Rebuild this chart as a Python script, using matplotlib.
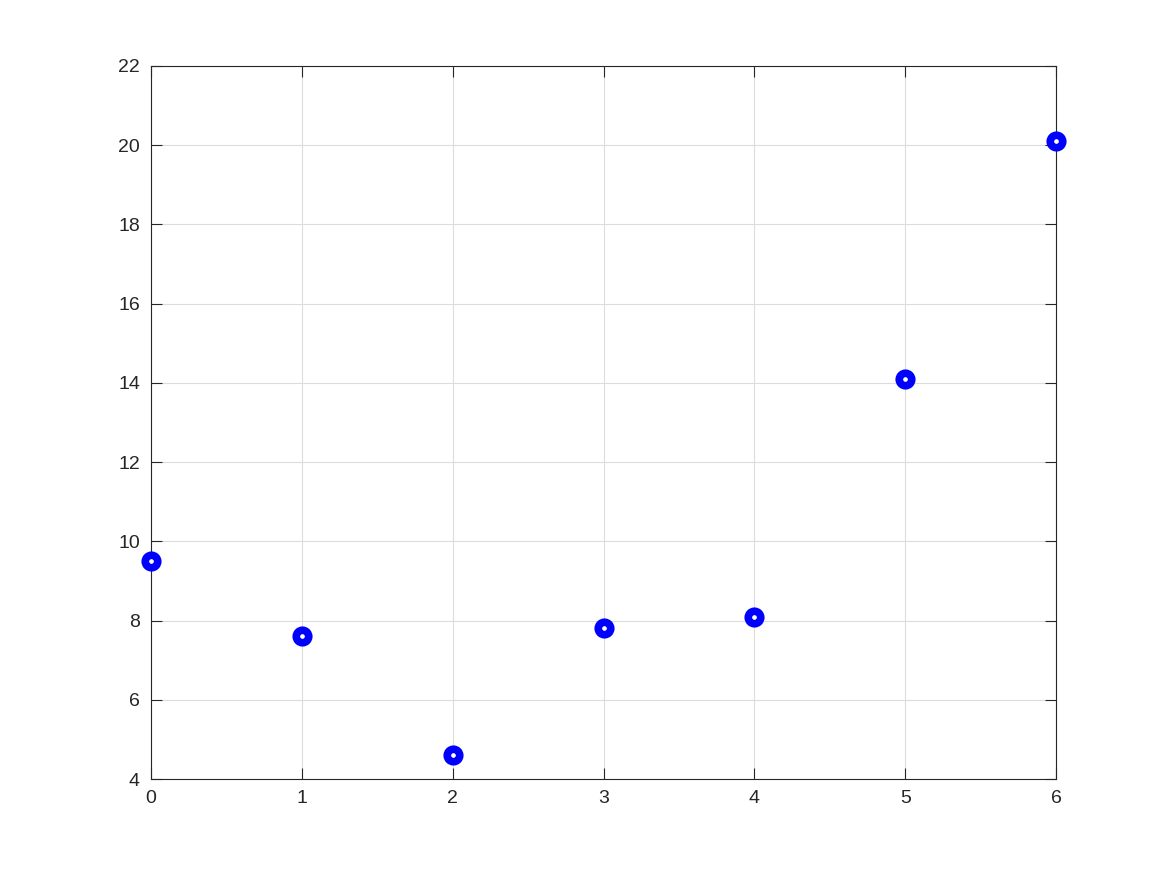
import numpy as np
import matplotlib
matplotlib.use('Agg')
import matplotlib.pyplot as plt

x = [0, 1, 2, 3, 4, 5, 6]
y = [9.5, 7.6, 4.6, 7.8, 8.1, 14.1, 20.1]
xticks = [0, 1, 2, 3, 4, 5, 6]
yticks = [4, 6, 8, 10, 12, 14, 16, 18, 20, 22]

plt.rcParams['font.family'] = ['Liberation Sans', 'DejaVu Sans']

fig = plt.figure(figsize=(11.67, 8.75), dpi=100)
ax = fig.add_axes([0.1294, 0.1097, 0.7755, 0.8149])

# thick-edged small circles, like MATLAB 'bo' with a big LineWidth
ax.plot(x, y, 'o', color='blue', markersize=9, markeredgewidth=5.5,
        markerfacecolor='white', markeredgecolor='blue', clip_on=False, zorder=5)

ax.set_xlim(0, 6)
ax.set_ylim(4, 22)
ax.set_xticks(xticks)
ax.set_yticks(yticks)
ax.grid(True, color='#dcdcdc', linewidth=0.8)
ax.set_axisbelow(True)
ax.tick_params(direction='in', top=True, right=True, length=8, width=0.8,
               labelsize=14, colors='#262626')
ax.tick_params(axis='x', pad=8)
ax.tick_params(axis='y', pad=8)
for s in ax.spines.values():
    s.set_color('#262626')
    s.set_linewidth(0.8)

fig.savefig('out.png', dpi=100)
